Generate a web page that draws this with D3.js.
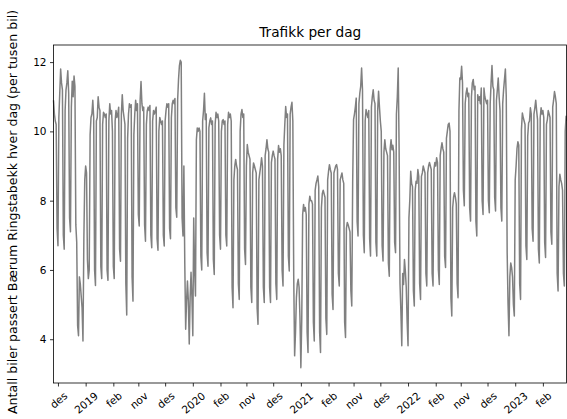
<!DOCTYPE html>
<html>
<head>
<meta charset="utf-8">
<script src="https://cdn.jsdelivr.net/npm/d3@7"></script>
<style>
  body { margin: 0; background: #fff; }
  svg { display: block; font-family: "DejaVu Sans", sans-serif; }
</style>
</head>
<body>
<div id="chart"></div>
<script>
// first day of each winter season (Nov-Feb), days are drawn one after another
const seasonStarts = ["2018-11-26", "2019-11-01", "2020-11-01", "2021-11-01", "2022-11-01"];

// cars per day, in thousands
const winter2018 = [
  10.9, 10.5, 10.3, 10.2, 7.2, 6.7,
  10.4, 11.1, 11.8, 11.4, 11.2, 7.0, 6.6,
  10.6, 11.2, 11.4, 11.75, 11.1, 7.5, 7.1,
  10.7, 11.45, 11.0, 11.6, 11.3, 7.3, 6.8,
  4.4, 4.1, 5.8, 5.6, 5.25, 4.9, 3.95,
  6.9, 8.6, 9.0, 8.8, 6.3, 5.75, 6.0,
  9.9, 10.4, 10.5, 10.9, 10.4, 6.0, 5.55,
  10.3, 10.4, 11.0, 10.7, 10.6, 6.1, 5.75,
  10.2, 10.55, 10.5, 10.4, 10.5, 6.0, 5.7,
  10.3, 10.8, 10.5, 10.6, 10.0, 6.1, 5.75,
  10.3, 10.6, 10.4, 10.5, 10.7, 6.6, 6.25,
  10.5, 11.06, 10.6, 10.4, 10.2, 5.6, 4.7,
  9.8, 10.5, 10.8, 10.7, 10.77, 5.8, 5.1,
  9.9, 10.5, 10.9, 10.6, 10.8
];
const winter2019 = [
  7.6, 7.27,
  10.9, 11.44, 10.8, 10.6, 10.7, 7.3, 6.83,
  10.2, 10.6, 10.7, 10.6, 10.75, 7.0, 6.64,
  10.3, 10.6, 10.5, 10.6, 10.7, 6.9, 6.57,
  10.0, 10.4, 10.3, 10.2, 10.3, 7.0, 6.69,
  10.3, 10.6, 10.8, 10.7, 10.8, 7.2, 6.9,
  10.4, 10.8, 10.9, 10.8, 10.95, 7.8, 7.52,
  10.9, 11.5, 11.9, 12.05, 12.0, 7.5, 6.98,
  9.0, 6.2, 4.29, 5.1, 5.68, 5.1, 3.86,
  5.2, 5.93, 5.2, 4.1, 7.5, 6.0, 5.25,
  9.76, 10.1, 10.0, 10.1, 10.0, 6.4, 6.0,
  10.3, 10.6, 11.1, 10.34, 10.5, 6.5, 6.11,
  10.1, 10.3, 10.39, 10.2, 10.3, 6.3, 5.87,
  10.2, 10.55, 10.4, 10.5, 10.3, 7.0, 6.6,
  10.0, 10.3, 10.34, 10.2, 10.3, 7.0, 6.69,
  10.2, 10.55, 10.4, 10.5, 10.3, 5.5, 4.91,
  8.6, 9.0, 9.19, 9.0, 8.9, 5.6, 5.15,
  10.0, 10.5, 10.63, 10.4, 10.5, 6.6, 6.16
];
const winter2020 = [
  9.0, 9.62, 9.4, 9.3, 9.2, 5.5, 5.06,
  8.8, 9.09, 9.0, 8.9, 8.8, 4.9, 4.43,
  8.6, 8.8, 9.0, 9.24, 9.0, 5.5, 5.06,
  9.3, 9.5, 9.76, 9.5, 9.4, 5.5, 5.06,
  9.1, 9.3, 9.43, 9.3, 9.2, 5.6, 5.15,
  9.2, 9.59, 9.4, 9.5, 9.3, 6.0, 5.54,
  9.6, 10.2, 10.72, 10.4, 10.5, 6.4, 5.97,
  10.5, 10.7, 10.84, 10.3, 5.8, 3.52, 4.2,
  5.2, 5.6, 5.73, 5.5, 4.6, 3.18, 4.6,
  7.6, 7.89, 7.7, 7.8, 7.6, 4.2, 3.62,
  7.9, 8.13, 8.0, 8.0, 7.9, 4.5, 3.95,
  8.3, 8.5, 8.6, 8.71, 8.4, 4.2, 3.62,
  7.8, 8.2, 8.3, 8.2, 8.1, 4.6, 4.14,
  8.6, 8.85, 9.04, 8.9, 8.8, 5.3, 4.86,
  8.8, 8.9, 9.0, 9.04, 8.9, 5.9, 5.54,
  8.6, 8.7, 8.8, 8.6, 8.5, 4.5, 4.05,
  7.2, 7.37, 7.3, 7.2, 7.1, 5.4, 4.96,
  8.5
];
const winter2021 = [
  10.34, 10.5, 10.7, 10.96, 7.4, 6.98,
  10.8, 11.1, 11.3, 11.83, 11.2, 7.0, 6.5,
  10.3, 10.63, 10.5, 10.4, 10.6, 6.9, 6.4,
  10.7, 11.0, 11.2, 10.9, 10.8, 6.8, 6.4,
  10.6, 11.16, 10.7, 10.3, 10.0, 6.7, 6.26,
  9.4, 9.76, 9.5, 9.4, 9.3, 6.2, 5.82,
  9.5, 9.76, 9.47, 9.6, 9.4, 6.8, 6.5,
  10.5, 11.0, 11.83, 9.5, 5.6, 4.8, 3.81,
  5.9, 5.58, 6.3, 5.97, 5.5, 4.5, 3.81,
  7.5, 8.03, 8.85, 8.5, 8.4, 5.4, 4.96,
  8.3, 8.56, 8.5, 8.9, 8.7, 5.6, 5.15,
  8.7, 8.8, 9.0, 8.9, 8.8, 5.9, 5.54,
  8.8, 9.0, 9.1, 9.0, 8.9, 5.9, 5.54,
  8.9, 9.1, 9.0, 9.24, 9.1, 6.0, 5.58,
  9.3, 9.5, 9.67, 9.5, 9.4, 6.4, 6.07,
  9.8, 10.0, 10.2, 10.24, 10.0, 5.2, 4.67,
  7.8, 8.1, 8.23, 8.1, 7.9, 5.6, 5.2,
  10.6, 11.54
];
const winter2022 = [
  11.5, 11.88, 11.4, 8.3, 7.85,
  10.8, 11.1, 11.25, 11.0, 11.1, 7.8, 7.41,
  11.0, 11.4, 11.5, 11.2, 11.3, 7.4, 6.98,
  11.06, 10.9, 11.0, 10.8, 11.25, 8.0, 7.6,
  11.25, 11.0, 10.9, 10.8, 10.9, 8.0, 7.65,
  10.8, 11.4, 11.9, 11.3, 11.2, 8.1, 7.7,
  10.9, 11.2, 11.54, 11.0, 10.6, 7.8, 7.41,
  10.8, 11.2, 11.5, 11.8, 11.0, 6.5, 5.0,
  4.1, 5.8, 6.2, 6.07, 5.8, 5.0, 4.67,
  8.6, 9.0, 9.5, 9.7, 9.6, 5.6, 5.15,
  10.05, 10.53, 10.4, 10.3, 10.2, 6.7, 6.3,
  9.86, 10.24, 10.3, 10.68, 10.5, 7.2, 6.83,
  10.5, 10.68, 10.9, 10.6, 10.34, 6.6, 6.2,
  10.4, 10.68, 10.5, 10.6, 10.4, 6.8, 6.36,
  10.2, 10.34, 10.6, 10.5, 10.4, 7.1, 6.74,
  10.7, 10.9, 11.15, 11.0, 10.8, 5.9, 5.39,
  8.4, 8.76, 8.6, 8.5, 8.3, 5.9, 5.54,
  10.0, 10.44, 10.3
];
const seasons = [winter2018, winter2019, winter2020, winter2021, winter2022];

// norwegian month names, january is labelled with the year instead
const monthNames = ["jan", "feb", "mar", "apr", "mai", "jun", "jul", "aug", "sep", "okt", "nov", "des"];
const yTicks = [4, 6, 8, 10, 12];

const titleText = "Trafikk per dag";
const yLabelText = "Antall biler passert Bærum Ringstabekk hver dag (per tusen bil)";

// Dimensions
const width = 567;
const height = 419;
const plotLeft = 53.5, plotRight = 567, plotTop = 45, plotBottom = 383;

// flatten seasons into one running day index
const parseDay = d3.utcParse("%Y-%m-%d");
const rows = [];
seasons.forEach((vals, s) => {
  const start = parseDay(seasonStarts[s]);
  vals.forEach((v, k) => {
    rows.push({ i: rows.length, date: d3.utcDay.offset(start, k), v: v });
  });
});

const svg = d3.select("#chart")
  .append("svg")
  .attr("width", width)
  .attr("height", height);

const x = d3.scaleLinear()
  .domain([0, rows.length - 1])
  .range([plotLeft, plotRight]);

// matplotlib style 5% padding on y
const ext = d3.extent(rows, d => d.v);
const pad = (ext[1] - ext[0]) * 0.05;
const y = d3.scaleLinear()
  .domain([ext[0] - pad, ext[1] + pad])
  .range([plotBottom, plotTop]);

// month ticks
const monthRows = rows.filter(d => d.date.getUTCDate() === 1);
const tickLabel = d => {
  const m = d.date.getUTCMonth();
  return m === 0 ? String(d.date.getUTCFullYear()) : monthNames[m];
};

// line
svg.append("path")
  .datum(rows)
  .attr("fill", "none")
  .attr("stroke", "#808080")
  .attr("stroke-width", 1.5)
  .attr("stroke-linejoin", "round")
  .attr("d", d3.line().x(d => x(d.i)).y(d => y(d.v)));

// spines
svg.append("rect")
  .attr("x", plotLeft)
  .attr("y", plotTop)
  .attr("width", plotRight - 0.5 - plotLeft)
  .attr("height", plotBottom - plotTop)
  .attr("fill", "none")
  .attr("stroke", "#000")
  .attr("stroke-width", 0.8);

// y axis
const yAxis = svg.append("g")
  .attr("transform", `translate(${plotLeft},0)`)
  .call(d3.axisLeft(y).tickValues(yTicks).tickSize(3.5).tickPadding(3.5).tickSizeOuter(0));
yAxis.select(".domain").remove();
yAxis.selectAll("line").attr("stroke", "#000").attr("stroke-width", 0.8);
yAxis.selectAll("text")
  .attr("font-size", 10.5)
  .attr("font-family", "DejaVu Sans")
  .attr("fill", "#000");

// x axis
const xAxis = svg.append("g")
  .attr("transform", `translate(0,${plotBottom})`)
  .call(d3.axisBottom(x)
    .tickValues(monthRows.map(d => d.i))
    .tickFormat((v, k) => tickLabel(monthRows[k]))
    .tickSize(3.5)
    .tickSizeOuter(0));
xAxis.select(".domain").remove();
xAxis.selectAll("line").attr("stroke", "#000").attr("stroke-width", 0.8);

// rotated labels, centred under the tick with the top of the rotated box 7px below the axis
const angle = 40;
const rad = angle * Math.PI / 180;
const xFont = 10.5;
xAxis.selectAll(".tick text")
  .attr("font-size", xFont)
  .attr("font-family", "DejaVu Sans")
  .attr("fill", "#000")
  .attr("text-anchor", "middle")
  .attr("dy", null)
  .attr("y", 0)
  .attr("dominant-baseline", "central")
  .attr("transform", function () {
    const w = this.getComputedTextLength();
    const h = xFont * 1.0;
    const boxH = w * Math.sin(rad) + h * Math.cos(rad);
    return `translate(0,${7 + boxH / 2}) rotate(${-angle})`;
  });

// title
svg.append("text")
  .attr("x", (plotLeft + plotRight) / 2)
  .attr("y", 36.5)
  .attr("text-anchor", "middle")
  .attr("font-size", 13.7)
  .attr("fill", "#000")
  .text(titleText);

// y label
svg.append("text")
  .attr("transform", `translate(17,212) rotate(-90)`)
  .attr("text-anchor", "middle")
  .attr("font-size", 12.6)
  .attr("fill", "#000")
  .text(yLabelText);
</script>
</body>
</html>
